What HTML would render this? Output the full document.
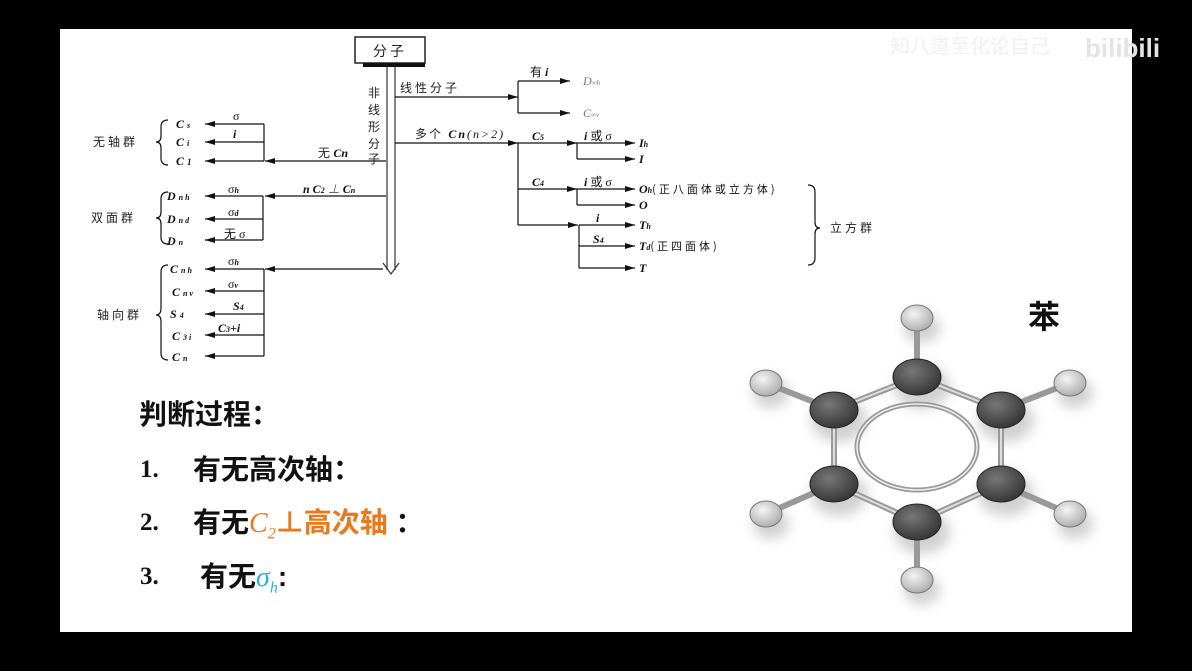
<!DOCTYPE html>
<html><head><meta charset="utf-8"><style>
html,body{margin:0;padding:0;background:#000;}
body{width:1192px;height:671px;position:relative;overflow:hidden;}
.slide{position:absolute;left:60px;top:29px;width:1072px;height:603px;background:#fff;}
svg{position:absolute;left:0;top:0;}
.t{font-family:"Liberation Serif","Noto Serif CJK SC",serif;font-size:12px;fill:#111;}
.c{font-family:"Liberation Sans","Noto Sans CJK SC",sans-serif;font-size:12px;fill:#222;letter-spacing:3px;}
.i{font-style:italic;font-weight:bold;}
.big{position:absolute;font-family:"Liberation Serif","Noto Sans CJK SC",sans-serif;font-weight:bold;font-size:28px;line-height:34px;height:34px;color:#111;white-space:nowrap;}
.big .cj{font-family:"Liberation Sans","Noto Sans CJK SC",sans-serif;}
.num{font-size:25px;}
</style></head><body>
<div class="slide"></div>
<svg width="1192" height="671" viewBox="0 0 1192 671">
<defs>
<marker id="a" markerWidth="10" markerHeight="6" refX="10" refY="3" orient="auto" markerUnits="userSpaceOnUse"><path d="M0,0 L10,3 L0,6 z" fill="#111"/></marker>
<radialGradient id="cg" cx="0.4" cy="0.35" r="0.7"><stop offset="0" stop-color="#777"/><stop offset="1" stop-color="#333"/></radialGradient>
<radialGradient id="hg" cx="0.4" cy="0.35" r="0.7"><stop offset="0" stop-color="#f4f4f4"/><stop offset="1" stop-color="#aaa"/></radialGradient>
<filter id="sh" x="-50%" y="-50%" width="200%" height="200%"><feGaussianBlur stdDeviation="6"/></filter>
</defs>
<text x="890" y="53" font-family="Liberation Sans,Noto Sans CJK SC,sans-serif" font-size="20" fill="#f0f0f0">知八道至化论自己</text>
<text x="1085" y="57" font-family="Liberation Sans,sans-serif" font-weight="bold" font-size="26" fill="#e4e4e4">bilibili</text>
<rect x="355" y="37" width="70" height="26" fill="#fff" stroke="#222" stroke-width="1.5"/>
<text x="390" y="56" class="c" text-anchor="middle" style="font-size:14px">分子</text>
<rect x="363" y="63" width="62" height="4" fill="#111"/>
<line x1="387" y1="67" x2="387" y2="270" stroke="#333" stroke-width="1.2"/>
<line x1="395" y1="67" x2="395" y2="270" stroke="#333" stroke-width="1.2"/>
<path d="M383,263 L391,274 L399,263" fill="none" stroke="#333" stroke-width="1.2"/>
<g class="c" style="font-size:12px;letter-spacing:0">
<text x="368" y="97">非</text><text x="368" y="114">线</text><text x="368" y="131">形</text><text x="368" y="148">分</text><text x="368" y="163">子</text>
</g>
<g stroke="#111" stroke-width="1.2" fill="none">
<line x1="386" y1="161" x2="265" y2="161" marker-end="url(#a)"/>
<line x1="264" y1="124" x2="264" y2="161"/>
<line x1="264" y1="124" x2="205" y2="124" marker-end="url(#a)"/>
<line x1="264" y1="142" x2="205" y2="142" marker-end="url(#a)"/>
<line x1="264" y1="161" x2="205" y2="161" marker-end="url(#a)"/>
<line x1="386" y1="196" x2="265" y2="196" marker-end="url(#a)"/>
<line x1="263" y1="196" x2="263" y2="240"/>
<line x1="263" y1="196" x2="205" y2="196" marker-end="url(#a)"/>
<line x1="263" y1="219" x2="205" y2="219" marker-end="url(#a)"/>
<line x1="263" y1="240" x2="205" y2="240" marker-end="url(#a)"/>
<line x1="383" y1="269" x2="265" y2="269" marker-end="url(#a)"/>
<line x1="264" y1="269" x2="264" y2="356"/>
<line x1="264" y1="269" x2="205" y2="269" marker-end="url(#a)"/>
<line x1="264" y1="291" x2="205" y2="291" marker-end="url(#a)"/>
<line x1="264" y1="314" x2="205" y2="314" marker-end="url(#a)"/>
<line x1="264" y1="335" x2="205" y2="335" marker-end="url(#a)"/>
<line x1="264" y1="356" x2="205" y2="356" marker-end="url(#a)"/>
<path d="M168,120 Q161,120 161,127 L161,136 Q161,142 156,142 Q161,142 161,148 L161,158 Q161,165 168,165"/>
<path d="M168,192 Q161,192 161,199 L161,212 Q161,218 156,218 Q161,218 161,224 L161,237 Q161,244 168,244"/>
<path d="M168,265 Q161,265 161,272 L161,308 Q161,315 156,315 Q161,315 161,322 L161,353 Q161,360 168,360"/>
<path d="M808,185 Q815,185 815,192 L815,222 Q815,228 820,228 Q815,228 815,234 L815,258 Q815,265 808,265"/>
<line x1="395" y1="97" x2="518" y2="97" marker-end="url(#a)"/>
<line x1="518" y1="81" x2="518" y2="113"/>
<line x1="518" y1="81" x2="570" y2="81" marker-end="url(#a)"/>
<line x1="518" y1="113" x2="570" y2="113" marker-end="url(#a)"/>
<line x1="395" y1="143" x2="518" y2="143" marker-end="url(#a)"/>
<line x1="518" y1="143" x2="518" y2="225"/>
<line x1="518" y1="143" x2="577" y2="143" marker-end="url(#a)"/>
<line x1="577" y1="143" x2="577" y2="159"/>
<line x1="577" y1="143" x2="635" y2="143" marker-end="url(#a)"/>
<line x1="577" y1="159" x2="635" y2="159" marker-end="url(#a)"/>
<line x1="518" y1="189" x2="577" y2="189" marker-end="url(#a)"/>
<line x1="577" y1="189" x2="577" y2="205"/>
<line x1="577" y1="189" x2="635" y2="189" marker-end="url(#a)"/>
<line x1="577" y1="205" x2="635" y2="205" marker-end="url(#a)"/>
<line x1="518" y1="225" x2="578" y2="225" marker-end="url(#a)"/>
<line x1="579" y1="225" x2="579" y2="268"/>
<line x1="579" y1="225" x2="635" y2="225" marker-end="url(#a)"/>
<line x1="579" y1="246" x2="635" y2="246" marker-end="url(#a)"/>
<line x1="579" y1="268" x2="635" y2="268" marker-end="url(#a)"/>
</g>
<g class="t">
<text x="233" y="120">σ</text><text x="233" y="138" class="i">i</text>
<text x="318" y="157" class="c" style="letter-spacing:0">无 <tspan class="t i">C</tspan><tspan class="t i" font-size="8">n</tspan></text>
<text x="303" y="193" class="i">n C<tspan font-size="8">2</tspan> ⊥ C<tspan font-size="8">n</tspan></text>
<text x="228" y="193">σ<tspan class="i" font-size="8">h</tspan></text>
<text x="228" y="216">σ<tspan class="i" font-size="8">d</tspan></text>
<text x="224" y="238"><tspan font-family="Noto Sans CJK SC">无</tspan> σ</text>
<text x="228" y="265">σ<tspan class="i" font-size="8">h</tspan></text>
<text x="228" y="288">σ<tspan class="i" font-size="8">v</tspan></text>
<text x="233" y="310" class="i">S<tspan font-size="8">4</tspan></text>
<text x="218" y="332" class="i">C<tspan font-size="8">3</tspan>+i</text>
<g class="i">
<text x="176" y="128">C <tspan font-size="8">s</tspan></text>
<text x="176" y="146">C <tspan font-size="8">i</tspan></text>
<text x="176" y="165">C <tspan font-size="9">1</tspan></text>
<text x="167" y="200">D <tspan font-size="8">n h</tspan></text>
<text x="167" y="223">D <tspan font-size="8">n d</tspan></text>
<text x="167" y="245">D <tspan font-size="8">n</tspan></text>
<text x="170" y="273">C <tspan font-size="8">n h</tspan></text>
<text x="172" y="296">C <tspan font-size="8">n v</tspan></text>
<text x="170" y="318">S <tspan font-size="8">4</tspan></text>
<text x="172" y="340">C <tspan font-size="8">3 i</tspan></text>
<text x="172" y="361">C <tspan font-size="8">n</tspan></text>
</g>
<text x="530" y="76"><tspan font-family="Noto Sans CJK SC">有</tspan> <tspan class="i">i</tspan></text>
<text x="583" y="85" fill="#777" font-style="italic">D<tspan font-size="7">∞h</tspan></text>
<text x="583" y="117" fill="#777" font-style="italic">C<tspan font-size="7">∞v</tspan></text>
<text x="532" y="140" class="i">C<tspan font-size="8">5</tspan></text>
<text x="532" y="186" class="i">C<tspan font-size="8">4</tspan></text>
<text x="584" y="140"><tspan class="i">i</tspan> <tspan font-family="Noto Sans CJK SC">或</tspan> σ</text>
<text x="584" y="186"><tspan class="i">i</tspan> <tspan font-family="Noto Sans CJK SC">或</tspan> σ</text>
<text x="596" y="222" class="i">i</text>
<text x="593" y="243" class="i">S<tspan font-size="8">4</tspan></text>
<text x="639" y="147" class="i">I<tspan font-size="8">h</tspan></text>
<text x="639" y="163" class="i">I</text>
<text x="639" y="193"><tspan class="i">O<tspan font-size="8">h</tspan></tspan><tspan font-family="Noto Sans CJK SC" font-size="11" letter-spacing="3">(正八面体或立方体)</tspan></text>
<text x="639" y="209" class="i">O</text>
<text x="639" y="229" class="i">T<tspan font-size="8">h</tspan></text>
<text x="639" y="250"><tspan class="i">T<tspan font-size="8">d</tspan></tspan><tspan font-family="Noto Sans CJK SC" font-size="11" letter-spacing="3">(正四面体)</tspan></text>
<text x="639" y="272" class="i">T</text>
</g>
<g class="c">
<text x="93" y="146">无轴群</text>
<text x="91" y="222">双面群</text>
<text x="97" y="319">轴向群</text>
<text x="830" y="232">立方群</text>
<text x="400" y="92">线性分子</text>
<text x="415" y="138" style="letter-spacing:2px">多个 <tspan class="t i">C</tspan><tspan class="t i" font-size="8">n</tspan><tspan class="t" font-style="italic">(n&gt;2)</tspan></text>
</g>
<!-- benzene -->
<g fill="#999" opacity="0.45" filter="url(#sh)">
<ellipse cx="922" cy="387" rx="28" ry="22"/><ellipse cx="922" cy="532" rx="28" ry="22"/>
<ellipse cx="839" cy="420" rx="28" ry="22"/><ellipse cx="1006" cy="420" rx="28" ry="22"/>
<ellipse cx="839" cy="494" rx="28" ry="22"/><ellipse cx="1006" cy="494" rx="28" ry="22"/>
<ellipse cx="922" cy="590" rx="18" ry="15"/><ellipse cx="922" cy="328" rx="18" ry="15"/>
<ellipse cx="771" cy="393" rx="18" ry="15"/><ellipse cx="1075" cy="393" rx="18" ry="15"/>
<ellipse cx="771" cy="524" rx="18" ry="15"/><ellipse cx="1075" cy="524" rx="18" ry="15"/>
</g>
<g stroke="#999" stroke-width="6" stroke-linecap="round">
<line x1="917" y1="318" x2="917" y2="377"/><line x1="917" y1="522" x2="917" y2="580"/>
<line x1="766" y1="383" x2="834" y2="410"/><line x1="1070" y1="383" x2="1001" y2="410"/>
<line x1="766" y1="514" x2="834" y2="484"/><line x1="1070" y1="514" x2="1001" y2="484"/>
<polygon points="917,377 1001,410 1001,484 917,522 834,484 834,410" fill="none"/>
</g>
<g stroke="#ddd" stroke-width="2" fill="none">
<polygon points="917,377 1001,410 1001,484 917,522 834,484 834,410"/>
</g>
<ellipse cx="917" cy="447" rx="60" ry="43" fill="none" stroke="#999" stroke-width="5"/>
<ellipse cx="917" cy="447" rx="60" ry="43" fill="none" stroke="#eee" stroke-width="1.5"/>
<g fill="url(#hg)" stroke="#777" stroke-width="1">
<ellipse cx="917" cy="318" rx="16" ry="13"/><ellipse cx="917" cy="580" rx="16" ry="13"/>
<ellipse cx="766" cy="383" rx="16" ry="13"/><ellipse cx="1070" cy="383" rx="16" ry="13"/>
<ellipse cx="766" cy="514" rx="16" ry="13"/><ellipse cx="1070" cy="514" rx="16" ry="13"/>
</g>
<g fill="url(#cg)" stroke="#222" stroke-width="1">
<ellipse cx="917" cy="377" rx="24" ry="18"/><ellipse cx="917" cy="522" rx="24" ry="18"/>
<ellipse cx="834" cy="410" rx="24" ry="18"/><ellipse cx="1001" cy="410" rx="24" ry="18"/>
<ellipse cx="834" cy="484" rx="24" ry="18"/><ellipse cx="1001" cy="484" rx="24" ry="18"/>
</g>
</svg>
<div class="big" style="left:1028px;top:298px;font-size:32px;line-height:38px;height:38px;"><span class="cj">苯</span></div>
<div class="big" style="left:139px;top:398px;"><span class="cj">判断过程：</span></div>
<div class="big num" style="left:140px;top:453px;">1.</div>
<div class="big" style="left:193px;top:453px;"><span class="cj">有无高次轴：</span></div>
<div class="big num" style="left:140px;top:506px;">2.</div>
<div class="big" style="left:193px;top:506px;"><span class="cj">有无</span><span style="color:#e87a1e;font-style:italic;font-weight:normal">C<sub style="font-size:16px">2</sub></span><span class="cj" style="color:#e87a1e">⊥高次轴</span><span class="cj">&nbsp;：</span></div>
<div class="big num" style="left:140px;top:560px;">3.</div>
<div class="big" style="left:200px;top:560px;"><span class="cj">有无</span><span style="color:#2ab0e0;font-style:italic;font-weight:normal">σ<sub style="font-size:16px">h</sub></span><span class="cj">:</span></div>
</body></html>
